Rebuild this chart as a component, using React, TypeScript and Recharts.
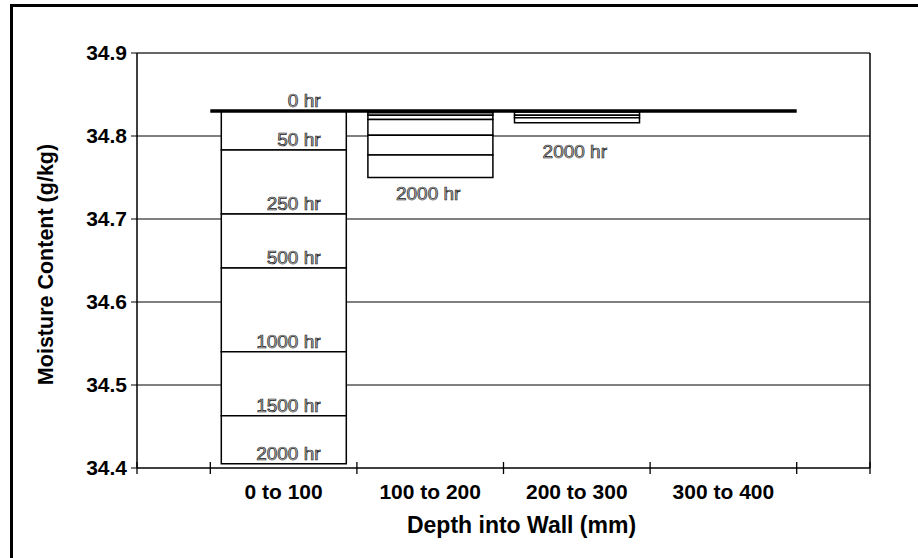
import React from "react";
import {
  ComposedChart,
  Bar,
  Line,
  Scatter,
  XAxis,
  YAxis,
  CartesianGrid,
  ReferenceLine,
} from "recharts";

// ---- data ----
const depthLabels = ["0 to 100", "100 to 200", "200 to 300", "300 to 400"];
const hours = [0, 50, 250, 500, 1000, 1500, 2000];
const moisture0to100 = [34.83, 34.783, 34.706, 34.641, 34.54, 34.463, 34.405];
const moisture100to200 = [34.83, 34.828, 34.825, 34.82, 34.801, 34.777, 34.75];
const moisture200to300 = [34.83, 34.83, 34.83, 34.829, 34.825, 34.822, 34.816];
const moisture300to400 = [34.83, 34.83, 34.83, 34.83, 34.83, 34.83, 34.83];
const yTicks = [34.4, 34.5, 34.6, 34.7, 34.8, 34.9];
const initialMoisture = 34.83;
// anchors (depth index, value) of the separate "2000 hr" annotations
const lateLabelDepths = [1, 2];
const lateLabelValues = [34.723, 34.773];

// ---- derived tables ----
const profiles = [moisture0to100, moisture100to200, moisture200to300, moisture300to400];
const segments = profiles.flatMap((m, d) =>
  m.slice(1).map((low, i) => ({ x: d + 1, range: [low, m[i]] }))
);
const lineData = [
  { x: 0.5, v: initialMoisture },
  { x: depthLabels.length + 0.5, v: initialMoisture },
];
const firstLabels = hours.map((h, i) => ({ x: 1, v: moisture0to100[i], text: `${h} hr` }));
const lateLabels = lateLabelDepths.map((d, i) => ({
  x: d + 1,
  v: lateLabelValues[i],
  text: `${hours[hours.length - 1]} hr`,
}));
const xMax = depthLabels.length + 1;
const xTicks: number[] = [0];
depthLabels.forEach((_, i) => {
  xTicks.push(i + 0.5, i + 1);
});
xTicks.push(depthLabels.length + 0.5, xMax);
const barTicks = depthLabels.map((_, i) => i + 1);

const FONT = "'Liberation Sans', Arial, Helvetica, sans-serif";
const X_TICK_SIZE = 6;
const X_TICK_MARGIN = 4;

const XTick = (props: any) => {
  const { x, y, payload } = props;
  const v = payload.value;
  const axisY = y - X_TICK_SIZE - X_TICK_MARGIN;
  if (Number.isInteger(v) && v >= 1 && v <= depthLabels.length) {
    return (
      <text
        x={x}
        y={axisY + 31}
        textAnchor="middle"
        fontFamily={FONT}
        fontWeight="bold"
        fontSize={21}
        fill="#000"
      >
        {depthLabels[v - 1]}
      </text>
    );
  }
  return <line x1={x} x2={x} y1={axisY - 6} y2={axisY + 6} stroke="#000" strokeWidth={1.3} />;
};

const labelStyle = {
  fontFamily: FONT,
  fontSize: 19,
  fill: "#b8b8b8",
  stroke: "#1a1a1a",
  strokeWidth: 0.7,
};

const FirstLabel = (props: any) => {
  const { cx, cy, payload } = props;
  return (
    <text x={cx + 37} y={cy - 4} textAnchor="end" {...labelStyle}>
      {payload.text}
    </text>
  );
};

const LateLabel = (props: any) => {
  const { cx, cy, payload } = props;
  return (
    <text x={cx - 2} y={cy} textAnchor="middle" {...labelStyle}>
      {payload.text}
    </text>
  );
};

export default function App() {
  return (
    <div
      style={{
        position: "absolute",
        left: 0,
        top: 0,
        width: 918,
        height: 558,
        overflow: "hidden",
        background: "#fff",
      }}
    >
      <div
        style={{
          position: "absolute",
          left: 10,
          top: 4,
          width: 2000,
          height: 2000,
          borderLeft: "3px solid #000",
          borderTop: "3px solid #000",
        }}
      />
      <div style={{ position: "absolute", left: 0, top: 0 }}>
        <ComposedChart
          width={918}
          height={558}
          data={segments}
          margin={{ top: 53, right: 48, left: 0, bottom: 30 }}
        >
          <CartesianGrid
            vertical={false}
            horizontalValues={[34.5, 34.6, 34.7, 34.8]}
            stroke="#000"
            strokeWidth={1}
          />
          <XAxis
            type="number"
            dataKey="x"
            domain={[0, xMax]}
            ticks={xTicks}
            interval={0}
            allowDataOverflow
            tickSize={X_TICK_SIZE}
            tickMargin={X_TICK_MARGIN}
            tickLine={false}
            axisLine={{ stroke: "#000", strokeWidth: 1.5 }}
            tick={XTick}
            height={60}
            label={{
              content: (p: any) => {
                const vb = p.viewBox;
                return (
                  <text
                    x={vb.x + vb.width / 2 + 18}
                    y={vb.y + 65}
                    textAnchor="middle"
                    fontFamily={FONT}
                    fontWeight="bold"
                    fontSize={23}
                    fill="#000"
                  >
                    Depth into Wall (mm)
                  </text>
                );
              },
            }}
          />
          <XAxis
            xAxisId="bars"
            type="number"
            dataKey="x"
            domain={[0, xMax]}
            ticks={barTicks}
            allowDataOverflow
            hide
          />
          <YAxis
            type="number"
            domain={[34.4, 34.9]}
            ticks={yTicks}
            interval={0}
            allowDataOverflow
            width={137}
            tickSize={6}
            tickMargin={4}
            tickFormatter={(v: number) => v.toFixed(1)}
            tick={{ fontFamily: FONT, fontWeight: "bold", fontSize: 21, fill: "#000" }}
            tickLine={{ stroke: "#000", strokeWidth: 1 }}
            axisLine={{ stroke: "#000", strokeWidth: 1.5 }}
            label={{
              content: (p: any) => {
                const vb = p.viewBox;
                const cy = vb.y + vb.height / 2 + 4;
                return (
                  <text
                    x={53}
                    y={cy}
                    transform={`rotate(-90, 53, ${cy})`}
                    textAnchor="middle"
                    fontFamily={FONT}
                    fontWeight="bold"
                    fontSize={21.5}
                    fill="#000"
                  >
                    Moisture Content (g/kg)
                  </text>
                );
              },
            }}
          />
          <ReferenceLine y={34.9} stroke="#666" strokeWidth={2} />
          <ReferenceLine x={xMax} stroke="#000" strokeWidth={1.5} />
          <Bar
            xAxisId="bars"
            dataKey="range"
            barSize={125}
            fill="#fff"
            stroke="#000"
            strokeWidth={1.5}
            isAnimationActive={false}
          />
          <Line
            data={lineData}
            dataKey="v"
            stroke="#000"
            strokeWidth={3.5}
            dot={false}
            isAnimationActive={false}
          />
          <Scatter data={firstLabels} dataKey="v" shape={FirstLabel} isAnimationActive={false} />
          <Scatter data={lateLabels} dataKey="v" shape={LateLabel} isAnimationActive={false} />
        </ComposedChart>
      </div>
    </div>
  );
}
